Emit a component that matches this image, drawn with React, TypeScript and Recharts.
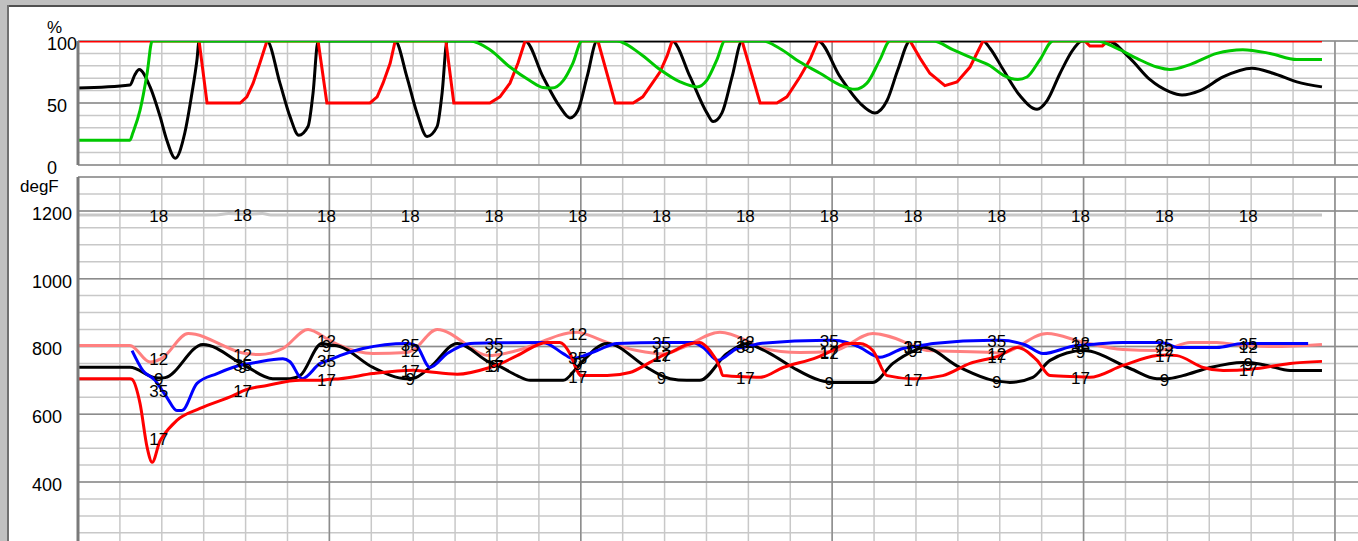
import { LineChart, Line, XAxis, YAxis, CartesianGrid } from "recharts";

// x is in grid divisions (one division = one vertical grid line)
const T_DOMAIN = [0, 30.55];
const T_MINOR = [0, 1, 2, 3, 4, 5, 6, 7, 8, 9, 10, 11, 12, 13, 14, 15, 16, 17, 18, 19, 20, 21, 22, 23, 24, 25, 26, 27, 28, 29, 30];
const T_MAJOR = [6, 12, 18, 24, 30];
const LABEL_T = [2, 4, 6, 8, 10, 12, 14, 16, 18, 20, 22, 24, 26, 28];

const PCT_TICKS = [0, 10, 20, 30, 40, 50, 60, 70, 80, 90, 100];
const PCT_MAJOR = [0, 50, 100];
const DEGF_DOMAIN = [226, 1300];
const DEGF_TICKS = [250, 300, 350, 400, 450, 500, 550, 600, 650, 700, 750, 800, 850, 900, 950, 1000, 1050, 1100, 1150, 1200, 1250, 1300];
const DEGF_MAJOR = [400, 600, 800, 1000, 1200, 1300];
const DEGF_LABELS = [400, 600, 800, 1000, 1200];

// top panel, %
const BLACK_PCT: [number, number][] = [
  [0, 62], [1.24, 64.5], [1.36, 73], [1.46, 77], [1.72, 63], [1.96, 39], [2.12, 20], [2.32, 5.5], [2.55, 26], [2.72, 58], [2.84, 85], [2.89, 100],
  [4.51, 100], [4.82, 66], [5.06, 39], [5.27, 24], [5.49, 31], [5.61, 58], [5.73, 100],
  [7.57, 100], [7.85, 71], [8.09, 42], [8.33, 23], [8.57, 31], [8.69, 58], [8.81, 100],
  [10.67, 100], [11.1, 71], [11.5, 47], [11.74, 38], [11.93, 44], [12.15, 71], [12.39, 100],
  [14.18, 100], [14.61, 71], [15.01, 42], [15.16, 35], [15.37, 42], [15.61, 71], [15.85, 100],
  [17.66, 100], [18.19, 71], [18.66, 50], [19.02, 42], [19.31, 52], [19.57, 77], [19.86, 100],
  [21.6, 100], [21.77, 94], [22.08, 77], [22.48, 56], [22.89, 45], [23.13, 52], [23.44, 74], [23.75, 93], [23.96, 100],
  [24.58, 100], [25.11, 86], [25.58, 69], [26.06, 59], [26.35, 56.5], [26.78, 60], [27.33, 71], [28.02, 78], [28.52, 74], [29.09, 67], [29.69, 63],
];
const RED_PCT: [number, number][] = [
  [0, 100], [2.89, 100], [3.08, 50], [3.87, 50], [4.03, 55], [4.18, 66], [4.34, 82], [4.51, 100],
  [5.73, 100], [5.94, 50], [6.97, 50], [7.14, 55], [7.28, 66], [7.45, 82], [7.57, 100],
  [8.78, 100], [8.97, 50], [9.83, 50], [10.07, 55], [10.31, 66], [10.5, 82], [10.67, 100],
  [12.41, 100], [12.82, 50], [13.25, 50], [13.48, 55], [13.77, 69], [13.89, 75], [14.06, 88], [14.18, 100],
  [15.85, 100], [16.28, 50], [16.68, 50], [16.92, 55], [17.23, 71], [17.47, 85], [17.66, 100],
  [19.86, 100], [20.1, 86], [20.33, 74], [20.69, 64], [20.98, 67], [21.29, 79], [21.6, 100],
  [24.03, 100], [24.15, 96], [24.45, 96], [24.58, 100], [29.69, 100],
];
const GREEN_PCT: [number, number][] = [
  [0, 20], [1.24, 20], [1.31, 26], [1.48, 44], [1.65, 74], [1.77, 100],
  [9.36, 100], [9.83, 93], [10.31, 79], [10.79, 68], [11.1, 62.5], [11.31, 62], [11.58, 68], [11.81, 82], [12.03, 100],
  [12.86, 100], [13.41, 90], [13.89, 77], [14.37, 67], [14.77, 63], [15.01, 68.5], [15.25, 85], [15.44, 100],
  [16.35, 100], [16.75, 94], [17.23, 83], [17.71, 74], [18.19, 64.5], [18.54, 61], [18.83, 66], [19.14, 85], [19.38, 100],
  [20.41, 100], [20.88, 93], [21.36, 86], [21.77, 80], [22.08, 72.5], [22.43, 69], [22.65, 71], [22.96, 85], [23.27, 100],
  [24.32, 100], [24.8, 94], [25.27, 86], [25.75, 79], [26.06, 77], [26.54, 81], [27.18, 90], [27.8, 93], [28.45, 90], [29.09, 85], [29.69, 85],
];

// bottom panel, degF
const GRAY_F: [number, number][] = [
  [0, 1188], [2, 1188], [3.3, 1188], [3.6, 1192], [4, 1190], [4.4, 1192], [4.6, 1188], [6, 1188], [8, 1188], [10, 1188], [12, 1188],
  [14, 1188], [16, 1188], [18, 1188], [20, 1188], [22, 1188], [24, 1188], [26, 1188], [28, 1188], [29.69, 1188],
];
const SALMON_F: [number, number][] = [
  [0, 803], [1.24, 803], [1.72, 754], [2, 765], [2.63, 838], [4, 779], [4.34, 776], [4.89, 794], [5.49, 850], [6, 818], [6.25, 803],
  [7.04, 779], [7.85, 782], [8, 790], [8.57, 850], [9.83, 773], [10, 775], [10.48, 788], [11.91, 842], [12, 840], [12.7, 809], [13.34, 788],
  [14, 778], [14.4, 795], [15.32, 842], [16, 815], [16.28, 797], [17.23, 782], [18, 785], [18.97, 838], [20, 800], [20.26, 788],
  [21.84, 782], [22, 780], [23.13, 838], [24, 812], [24.94, 791], [25.75, 788], [26, 792], [26.54, 812], [27.18, 812], [27.8, 803],
  [28, 802], [28.52, 800], [29.69, 806],
];
const BLACK_F: [number, number][] = [
  [0, 739], [1.24, 739], [1.84, 708], [2, 707], [2.08, 708], [2.98, 806], [4, 742], [4.65, 705], [5.06, 705], [5.3, 714], [5.82, 809],
  [6, 805], [6.25, 800], [7.04, 738], [7.85, 705], [8, 706], [8.4, 738], [9.05, 809], [9.83, 753], [10, 745], [10.48, 714], [10.79, 700],
  [11.58, 700], [11.91, 738], [12, 750], [12.63, 809], [13.58, 738], [14, 710], [14.13, 705], [14.53, 700], [14.84, 700], [15.49, 779],
  [15.97, 809], [16, 808], [16.52, 779], [17.06, 738], [17.71, 700], [18, 694], [18.97, 694], [19.45, 750], [20, 790], [20.17, 798],
  [21.05, 738], [21.84, 700], [22, 697], [22.24, 694], [22.79, 709], [23.2, 759], [24, 788], [25.11, 735], [25.75, 705], [26, 705],
  [26.37, 714], [27.02, 738], [27.8, 753], [28, 752], [28.38, 744], [28.93, 729], [29.69, 729],
];
const BLUE_F: [number, number][] = [
  [1.29, 788], [1.55, 729], [1.84, 700], [2, 672], [2.12, 650], [2.36, 611], [2.48, 611], [2.84, 691], [3.32, 720], [4, 748], [4.11, 750],
  [4.89, 764], [5.06, 755], [5.35, 705], [5.78, 750], [6, 760], [6.25, 773], [6.8, 794], [7.85, 809], [8, 806], [8.09, 800], [8.4, 738],
  [8.81, 779], [9.36, 809], [10, 811], [11.1, 812], [11.58, 779], [11.81, 764], [12, 770], [12.39, 788], [12.86, 809], [14, 812],
  [14.68, 812], [14.92, 797], [15.27, 759], [15.73, 794], [16, 800], [16.28, 809], [17.88, 818], [18, 818], [18.35, 812], [18.66, 797],
  [19.14, 768], [19.69, 794], [20, 800], [20.41, 809], [21.84, 818], [22, 818], [22.6, 805], [23.03, 779], [23.84, 803], [24, 804],
  [24.94, 812], [25.75, 812], [26, 808], [26.23, 797], [27.18, 797], [27.8, 809], [28, 809], [29.36, 809],
];
const RED_F: [number, number][] = [
  [0, 705], [1.24, 705], [1.29, 703], [1.48, 632], [1.65, 502], [1.77, 458], [1.96, 522], [2, 530], [2.36, 582], [2.91, 617], [3.7, 655],
  [4, 672], [4.51, 685], [5.3, 700], [5.78, 700], [6, 703], [6.25, 705], [7.04, 720], [8, 730], [8.33, 726], [9.05, 718], [9.83, 738],
  [10, 745], [10.48, 773], [11.19, 812], [11.5, 812], [11.74, 779], [11.91, 729], [12, 714], [12.63, 714], [13.17, 723], [13.65, 753],
  [14, 776], [14.13, 782], [14.53, 805], [14.84, 812], [15.08, 788], [15.32, 738], [15.39, 714], [16, 710], [16.28, 709], [16.83, 738],
  [17.64, 768], [18, 788], [18.35, 809], [18.66, 809], [18.97, 788], [19.31, 714], [19.93, 705], [20, 705], [20.64, 714], [21.29, 750],
  [22, 773], [22.41, 797], [22.89, 759], [23.2, 714], [24, 710], [24.15, 709], [24.94, 744], [25.75, 773], [26, 775], [26.23, 773],
  [26.85, 738], [27.33, 729], [28, 733], [28.14, 735], [28.93, 750], [29.69, 756],
];

const FONT = "'Liberation Sans', Arial, sans-serif";
const MINOR = "#c8c8c8";
const MAJOR = "#8c8c8c";

const pts = (a: [number, number][]) => a.map(([t, v]) => ({ t, v }));

const axisTick = (labels: number[], left: number) => (p: any) =>
  labels.includes(p.payload.value) ? (
    <text x={left} y={p.y + 9} fontSize={18} fontFamily={FONT} fill="#000" textAnchor="start">
      {p.payload.value}
    </text>
  ) : (
    <g />
  );

// number tag drawn on the curve every second division
const tagDot = (tag: string) => (p: any) =>
  LABEL_T.includes(p.payload.t) ? (
    <text key={p.index} x={p.cx - 3} y={p.cy + 7} fontSize={17} fontFamily={FONT} fill="#000" textAnchor="middle">
      {tag}
    </text>
  ) : (
    <g key={p.index} />
  );

const series = (data: [number, number][], color: string, type: "linear" | "monotone", tag?: string) => (
  <Line
    data={pts(data)}
    dataKey="v"
    type={type}
    stroke={color}
    strokeWidth={3}
    dot={tag ? tagDot(tag) : false}
    activeDot={false}
    isAnimationActive={false}
  />
);

export default function App() {
  return (
    <div style={{ position: "absolute", left: 0, top: 0, width: 1358, height: 541, overflow: "hidden", background: "#fff", fontFamily: FONT }}>
      <div style={{ position: "absolute", left: 0, top: 0 }}>
        <LineChart width={1358} height={178} margin={{ top: 41, right: 0, bottom: 13, left: 0 }}>
          <CartesianGrid stroke={MINOR} strokeWidth={1.5} horizontalValues={PCT_TICKS} verticalValues={T_MINOR} />
          <CartesianGrid stroke={MAJOR} strokeWidth={1.5} horizontalValues={PCT_MAJOR} verticalValues={T_MAJOR} />
          <XAxis dataKey="t" type="number" domain={T_DOMAIN} hide allowDataOverflow />
          <YAxis type="number" domain={[0, 100]} ticks={PCT_TICKS} interval={0} width={78} tickLine={false}
            axisLine={{ stroke: "#7a7a7a", strokeWidth: 3 }} tick={axisTick(PCT_MAJOR, 47)} allowDataOverflow />
          {series(BLACK_PCT, "#000000", "monotone")}
          {series(RED_PCT, "#ff0000", "linear")}
          {series(GREEN_PCT, "#00c800", "monotone")}
        </LineChart>
      </div>
      <div style={{ position: "absolute", left: 0, top: 170 }}>
        <LineChart width={1358} height={371} margin={{ top: 7, right: 0, bottom: 0, left: 0 }}>
          <CartesianGrid stroke={MINOR} strokeWidth={1.5} horizontalValues={DEGF_TICKS} verticalValues={T_MINOR} />
          <CartesianGrid stroke={MAJOR} strokeWidth={1.5} horizontalValues={DEGF_MAJOR} verticalValues={T_MAJOR} />
          <XAxis dataKey="t" type="number" domain={T_DOMAIN} hide allowDataOverflow />
          <YAxis type="number" domain={DEGF_DOMAIN} ticks={DEGF_TICKS} interval={0} width={78} tickLine={false}
            axisLine={{ stroke: "#7a7a7a", strokeWidth: 3 }} tick={axisTick(DEGF_LABELS, 32)} allowDataOverflow />
          {series(GRAY_F, "#c8c8c8", "monotone", "18")}
          {series(SALMON_F, "#ff8080", "monotone", "12")}
          {series(BLACK_F, "#000000", "monotone", "9")}
          {series(BLUE_F, "#0000ff", "monotone", "35")}
          {series(RED_F, "#ff0000", "monotone", "17")}
        </LineChart>
      </div>
      <div style={{ position: "absolute", left: 47, top: 19, fontSize: 17, lineHeight: "18px" }}>%</div>
      <div style={{ position: "absolute", left: 20, top: 178, fontSize: 17, lineHeight: "18px" }}>degF</div>
      <div style={{ position: "absolute", left: 0, top: 0, width: 1358, height: 5, background: "#c0c0c0" }} />
      <div style={{ position: "absolute", left: 0, top: 5, width: 1358, height: 2, background: "#505050" }} />
      <div style={{ position: "absolute", left: 0, top: 0, width: 7, height: 541, background: "#c0c0c0" }} />
      <div style={{ position: "absolute", left: 7, top: 5, width: 2, height: 536, background: "#707070" }} />
    </div>
  );
}
